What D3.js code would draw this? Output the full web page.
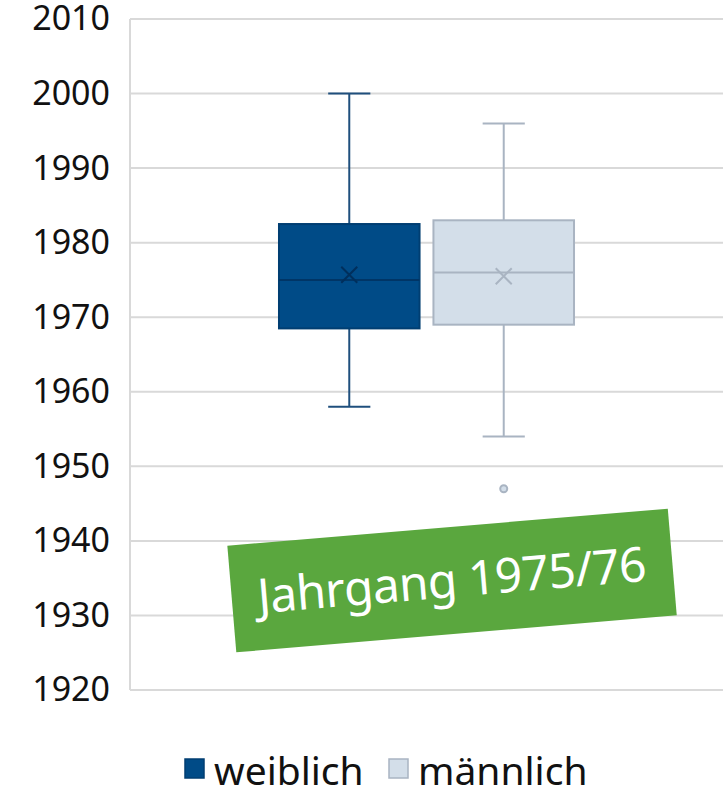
<!DOCTYPE html>
<html>
<head>
<meta charset="utf-8">
<script src="https://cdn.jsdelivr.net/npm/d3@7"></script>
<style>
body { margin: 0; background: #fff; }
svg text { font-family: "Noto Sans", "Open Sans", sans-serif; }
</style>
</head>
<body>
<div id="chart"></div>
<script>
var width = 723, height = 791;

// data
var series = ["weiblich", "männlich"];
var whiskerLow = [1958, 1954];
var q1 = [1968.5, 1969];
var median = [1975, 1976];
var q3 = [1982.5, 1983];
var whiskerHigh = [2000, 1996];
var mean = [1975.7, 1975.5];
var outliers = [[], [1947]];
var yTicks = [1920, 1930, 1940, 1950, 1960, 1970, 1980, 1990, 2000, 2010];
var fills = ["#004b87", "#d3dee9"];
var strokes = ["#1f4f7d", "#a9b4c2"];
var label = "Jahrgang 1975/76";

var plot = { left: 130, right: 723, top: 19, bottom: 690 };

var y = d3.scaleLinear().domain([1920, 2010]).range([plot.bottom, plot.top]);
var xGroup = d3.scaleBand().domain(["Jahrgang"]).range([plot.left, plot.right]).paddingOuter(0.505);
var xSeries = d3.scaleBand().domain(series).range([0, xGroup.bandwidth()]).paddingInner(0.09);

var svg = d3.select("#chart").append("svg")
    .attr("width", width)
    .attr("height", height);

// grid
svg.append("g")
    .selectAll("line")
    .data(yTicks)
    .enter().append("line")
    .attr("x1", plot.left)
    .attr("x2", plot.right)
    .attr("y1", function (d) { return y(d); })
    .attr("y2", function (d) { return y(d); })
    .attr("stroke", "#d9d9d9")
    .attr("stroke-width", 2);

svg.append("line")
    .attr("x1", plot.left).attr("x2", plot.left)
    .attr("y1", plot.top).attr("y2", plot.bottom)
    .attr("stroke", "#d9d9d9")
    .attr("stroke-width", 2);

// y axis labels
var yAxis = d3.axisLeft(y).tickValues(yTicks).tickSize(0).tickPadding(20).tickFormat(d3.format("d"));
var yG = svg.append("g")
    .attr("transform", "translate(" + plot.left + ",0)")
    .call(yAxis);
yG.select(".domain").remove();
yG.selectAll("text")
    .style("font-size", "34px")
    .style("font-family", "'Noto Sans', sans-serif")
    .attr("fill", "#111");

// boxes
var boxes = svg.append("g")
    .attr("transform", "translate(" + xGroup("Jahrgang") + ",0)");

series.forEach(function (s, i) {
    var x0 = xSeries(s), bw = xSeries.bandwidth(), cx = x0 + bw / 2, cap = bw * 0.3;
    var g = boxes.append("g");
    // whiskers
    g.append("line")
        .attr("x1", cx).attr("x2", cx)
        .attr("y1", y(whiskerHigh[i])).attr("y2", y(q3[i]))
        .attr("stroke", strokes[i]).attr("stroke-width", 2);
    g.append("line")
        .attr("x1", cx).attr("x2", cx)
        .attr("y1", y(q1[i])).attr("y2", y(whiskerLow[i]))
        .attr("stroke", strokes[i]).attr("stroke-width", 2);
    [whiskerHigh[i], whiskerLow[i]].forEach(function (v) {
        g.append("line")
            .attr("x1", cx - cap / 2).attr("x2", cx + cap / 2)
            .attr("y1", y(v)).attr("y2", y(v))
            .attr("stroke", strokes[i]).attr("stroke-width", 2);
    });
    // box
    g.append("rect")
        .attr("x", x0)
        .attr("y", y(q3[i]))
        .attr("width", bw)
        .attr("height", y(q1[i]) - y(q3[i]))
        .attr("fill", fills[i])
        .attr("stroke", i === 0 ? "#003e72" : strokes[i])
        .attr("stroke-width", 2);
    g.append("line")
        .attr("x1", x0).attr("x2", x0 + bw)
        .attr("y1", y(median[i])).attr("y2", y(median[i]))
        .attr("stroke", i === 0 ? "#003566" : strokes[i]).attr("stroke-width", 2);
    // mean marker
    var my = y(mean[i]), m = 8;
    g.append("path")
        .attr("d", "M" + (cx - m) + "," + (my - m) + "L" + (cx + m) + "," + (my + m) +
                   "M" + (cx - m) + "," + (my + m) + "L" + (cx + m) + "," + (my - m))
        .attr("stroke", i === 0 ? "#002f5c" : strokes[i])
        .attr("stroke-width", 2)
        .attr("fill", "none");
    // outliers
    g.selectAll("circle")
        .data(outliers[i])
        .enter().append("circle")
        .attr("cx", cx)
        .attr("cy", function (d) { return y(d); })
        .attr("r", 3.5)
        .attr("fill", "#d3dee9")
        .attr("stroke", strokes[i])
        .attr("stroke-width", 2);
});

// green label
var lab = svg.append("g")
    .attr("transform", "translate(452,580) rotate(-4.8)");
lab.append("rect")
    .attr("x", -221).attr("y", -53)
    .attr("width", 442).attr("height", 107)
    .attr("fill", "#5aa73e");
lab.append("text")
    .attr("x", 0).attr("y", 17)
    .attr("text-anchor", "middle")
    .attr("fill", "#fff")
    .attr("textLength", 390)
    .attr("lengthAdjust", "spacing")
    .style("font-size", "48px")
    .style("font-family", "'Noto Sans', sans-serif")
    .text(label);

// legend
var legend = svg.append("g");
var legendX = [184, 388];
series.forEach(function (s, i) {
    legend.append("rect")
        .attr("x", legendX[i] + 1).attr("y", 759)
        .attr("width", 19).attr("height", 19)
        .attr("fill", fills[i])
        .attr("stroke", i === 0 ? "#003e72" : strokes[i])
        .attr("stroke-width", 1.5);
    legend.append("text")
        .attr("x", legendX[i] + 30).attr("y", 785)
        .attr("fill", "#111")
        .style("font-size", "39px")
        .text(s);
});
</script>
</body>
</html>
